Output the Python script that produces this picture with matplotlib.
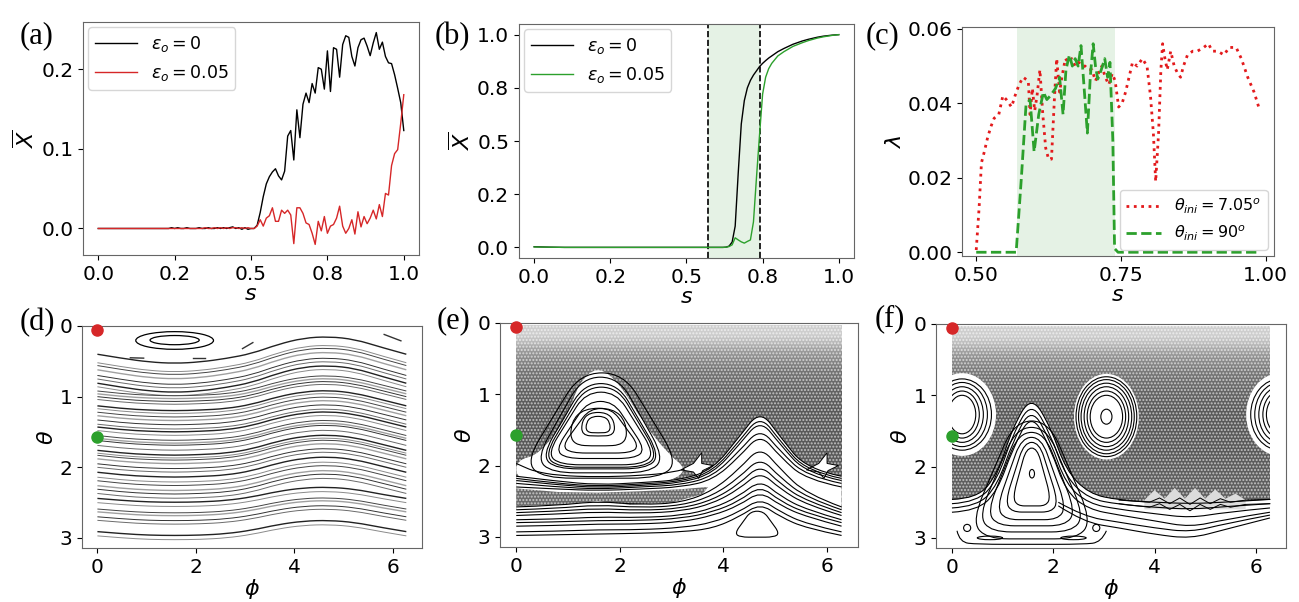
import numpy as np
import matplotlib
matplotlib.use("Agg")
import matplotlib.pyplot as plt
from matplotlib.path import Path
from matplotlib.patches import PathPatch, Ellipse, Polygon, Rectangle

plt.rcParams['font.family'] = ['DejaVu Sans']
plt.rcParams['mathtext.fontset'] = 'dejavusans'
plt.rcParams['xtick.labelsize'] = 14.5
plt.rcParams['ytick.labelsize'] = 14.5
plt.rcParams['axes.labelsize'] = 16
plt.rcParams['axes.edgecolor'] = '#666666'
plt.rcParams['hatch.linewidth'] = 1.0

# ---------------- (a) order parameter ----------------
s_a = np.round(np.arange(0, 1.0001, 0.01), 2)
xbar_a_eps0 = [
    0.000, 0.000, 0.000, 0.000, 0.000, 0.000, 0.000, 0.000, 0.000, 0.000,
    0.000, 0.000, 0.000, 0.000, 0.000, 0.000, 0.000, 0.000, 0.000, 0.000,
    0.000, 0.000, 0.000, 0.000, 0.001, 0.000, 0.001, 0.000, 0.000, 0.001,
    0.000, 0.000, 0.000, 0.001, 0.000, 0.000, 0.001, 0.000, 0.000, 0.001,
    0.000, 0.001, 0.000, 0.001, 0.002, 0.000, 0.001, -0.001, 0.001, -0.001,
    0.000, 0.000, 0.004, 0.020, 0.040, 0.056, 0.065, 0.071, 0.075, 0.066,
    0.061, 0.072, 0.116, 0.123, 0.086, 0.149, 0.114, 0.156, 0.170, 0.158,
    0.182, 0.170, 0.202, 0.200, 0.175, 0.223, 0.172, 0.227, 0.225, 0.190,
    0.231, 0.242, 0.240, 0.216, 0.204, 0.227, 0.237, 0.239, 0.229, 0.217,
    0.233, 0.246, 0.225, 0.234, 0.216, 0.208, 0.207, 0.193, 0.176, 0.158,
    0.123]
xbar_a_eps5 = [
    0.000, 0.000, 0.000, 0.000, 0.000, 0.000, 0.000, 0.000, 0.000, 0.000,
    0.000, 0.000, 0.000, 0.000, 0.000, 0.000, 0.000, 0.000, 0.000, 0.000,
    0.000, 0.000, 0.000, 0.000, 0.000, 0.000, 0.000, 0.000, 0.000, 0.000,
    0.000, 0.000, 0.000, 0.000, 0.000, 0.001, 0.000, 0.000, 0.001, 0.000,
    0.001, 0.000, 0.001, 0.000, 0.001, 0.001, 0.000, 0.001, 0.000, 0.001,
    0.000, 0.000, 0.003, 0.011, 0.003, 0.013, 0.016, 0.026, 0.009, 0.009,
    0.023, 0.019, 0.023, 0.017, -0.019, 0.026, 0.026, 0.019, 0.007, 0.005,
    -0.006, -0.020, 0.009, -0.003, 0.015, -0.006, 0.003, 0.005, 0.013, 0.028,
    0.003, -0.006, 0.000, 0.011, -0.007, 0.021, 0.002, 0.015, 0.006, 0.013,
    0.023, 0.012, 0.030, 0.015, 0.044, 0.042, 0.079, 0.094, 0.099, 0.132,
    0.168]

# ---------------- (b) ----------------
s_b = [0.0, 0.05, 0.1, 0.2, 0.3, 0.4, 0.5, 0.6, 0.62, 0.63, 0.64, 0.65, 0.66,
       0.67, 0.68, 0.69, 0.70, 0.71, 0.72, 0.73, 0.74, 0.75, 0.76, 0.77, 0.78,
       0.80, 0.82, 0.85, 0.88, 0.90, 0.93, 0.95, 0.98, 1.0]
xbar_b_eps0 = [0.003, 0.001, 0.0, 0.0, 0.0, 0.0, 0.0, 0.0, 0.0, 0.001, 0.006,
               0.025, 0.10, 0.35, 0.58, 0.69, 0.75, 0.785, 0.81, 0.83, 0.85,
               0.865, 0.878, 0.89, 0.90, 0.92, 0.935, 0.955, 0.97, 0.978,
               0.988, 0.993, 0.998, 1.0]
xbar_b_eps5 = [0.002, 0.001, 0.0, 0.0, 0.0, 0.0, 0.0, 0.0, 0.0, 0.001, 0.004,
               0.012, 0.045, 0.035, 0.026, 0.020, 0.028, 0.035, 0.12, 0.33,
               0.53, 0.72, 0.80, 0.84, 0.865, 0.90, 0.92, 0.945, 0.962, 0.972,
               0.984, 0.99, 0.997, 1.0]
chaos_lo, chaos_hi = 0.57, 0.74

# ---------------- (c) Lyapunov exponents ----------------
s_c_red = [0.500, 0.505, 0.509, 0.514, 0.520, 0.526, 0.531, 0.539, 0.546, 0.552,
           0.561, 0.567, 0.574, 0.581, 0.590, 0.593, 0.597, 0.601, 0.605, 0.610,
           0.615, 0.620, 0.625, 0.630, 0.635, 0.639, 0.644, 0.648, 0.654, 0.659,
           0.665, 0.671, 0.677, 0.683, 0.688, 0.694, 0.700, 0.706, 0.711, 0.717,
           0.723, 0.729, 0.735, 0.740, 0.746, 0.752, 0.758, 0.764, 0.770, 0.778,
           0.787, 0.795, 0.801, 0.806, 0.810, 0.815, 0.819, 0.822, 0.826, 0.830,
           0.836, 0.842, 0.848, 0.853, 0.858, 0.865, 0.874, 0.882, 0.893, 0.901,
           0.908, 0.917, 0.928, 0.937, 0.949, 0.958, 0.969, 0.980, 0.990]
lam_red = [0.0006, 0.012, 0.024, 0.027, 0.031, 0.034, 0.036, 0.037, 0.042, 0.041,
           0.039, 0.042, 0.045, 0.047, 0.046, 0.037, 0.044, 0.038, 0.042, 0.049,
           0.037, 0.028, 0.025, 0.025, 0.041, 0.052, 0.043, 0.047, 0.052, 0.051,
           0.052, 0.050, 0.051, 0.050, 0.050, 0.049, 0.049, 0.046, 0.048, 0.050,
           0.047, 0.045, 0.048, 0.046, 0.039, 0.040, 0.043, 0.047, 0.051, 0.050,
           0.052, 0.050, 0.042, 0.032, 0.019, 0.032, 0.049, 0.056, 0.052, 0.049,
           0.054, 0.050, 0.048, 0.047, 0.050, 0.053, 0.054, 0.054, 0.055, 0.056,
           0.054, 0.054, 0.053, 0.055, 0.055, 0.052, 0.047, 0.043, 0.038]
s_c_green = [0.500, 0.569, 0.578, 0.586, 0.593, 0.600, 0.608, 0.616, 0.622, 0.628,
             0.637, 0.644, 0.650, 0.655, 0.661, 0.666, 0.671, 0.676, 0.681, 0.686,
             0.692, 0.697, 0.702, 0.706, 0.710, 0.716, 0.722, 0.727, 0.731, 0.736,
             0.739, 0.745, 0.990]
lam_green = [0.0, 0.0, 0.020, 0.0395, 0.041, 0.027, 0.037, 0.043, 0.041, 0.042,
             0.044, 0.047, 0.037, 0.049, 0.053, 0.050, 0.052, 0.050, 0.0555, 0.045,
             0.032, 0.047, 0.056, 0.050, 0.0465, 0.049, 0.052, 0.047, 0.051, 0.030,
             0.001, 0.0, 0.0]
chaos_c_lo, chaos_c_hi = 0.57, 0.74

# ---------------- (d) regular tori ----------------
phi_d = [0, 0.52, 1.05, 1.57, 2.09, 2.62, 3.14, 3.67, 4.19, 4.71, 5.24, 5.76, 6.28]
wave_top = [0, 0.06, 0.11, 0.13, 0.11, 0.06, -0.01, -0.14, -0.23, -0.25, -0.21, -0.10, 0]
wave_mid = [0, 0.04, 0.06, 0.07, 0.06, 0.04, -0.02, -0.13, -0.20, -0.22, -0.18, -0.09, 0]
wave_bot = [0, 0.03, 0.05, 0.055, 0.05, 0.03, -0.02, -0.10, -0.15, -0.16, -0.13, -0.06, 0]
theta0_d = [0.40, 0.52, 0.56, 0.62, 0.70, 0.75, 0.81, 0.86, 0.92, 0.96, 1.00, 1.04,
            1.13, 1.17, 1.22, 1.27, 1.33, 1.39, 1.43, 1.48, 1.55, 1.59, 1.62, 1.69,
            1.76, 1.80, 1.83, 1.88, 1.95, 2.00, 2.07, 2.14, 2.19, 2.26, 2.31, 2.37,
            2.44, 2.50, 2.59, 2.63, 2.70, 2.75, 2.91, 2.97]
island_d = [(1.57, 0.205, 0.79, 0.125), (1.57, 0.20, 0.50, 0.065)]
fragments_d = [[(0.67, 0.45), (0.94, 0.455)], [(1.95, 0.46), (2.19, 0.46)],
               [(2.95, 0.32), (3.16, 0.235)], [(5.83, 0.12), (6.17, 0.21)]]

# ---------------- (e) mixed phase space ----------------
knots_e = [0, 0.8, 1.57, 2.4, 3.2, 3.8, 4.3, 4.71, 5.1, 5.6, 6.28]
humps_e = [
    [2.15, 2.22, 2.27, 2.24, 2.20, 2.05, 1.60, 1.22, 1.60, 2.05, 2.15],
    [2.18, 2.25, 2.29, 2.26, 2.22, 2.08, 1.66, 1.29, 1.66, 2.08, 2.18],
    [2.21, 2.27, 2.31, 2.28, 2.24, 2.11, 1.71, 1.35, 1.71, 2.11, 2.21],
    [2.25, 2.30, 2.33, 2.30, 2.27, 2.15, 1.80, 1.47, 1.80, 2.15, 2.25],
    [2.30, 2.33, 2.35, 2.33, 2.30, 2.20, 1.88, 1.55, 1.88, 2.20, 2.30],
    [2.58, 2.56, 2.50, 2.55, 2.52, 2.35, 2.05, 1.73, 2.05, 2.40, 2.58],
    [2.62, 2.60, 2.55, 2.59, 2.56, 2.42, 2.17, 1.88, 2.17, 2.45, 2.62],
    [2.66, 2.64, 2.60, 2.63, 2.60, 2.48, 2.26, 1.98, 2.26, 2.50, 2.66],
    [2.70, 2.68, 2.65, 2.67, 2.64, 2.53, 2.33, 2.08, 2.33, 2.55, 2.70],
    [2.76, 2.75, 2.72, 2.73, 2.70, 2.60, 2.43, 2.20, 2.43, 2.62, 2.76],
    [2.80, 2.79, 2.77, 2.77, 2.74, 2.65, 2.50, 2.28, 2.50, 2.67, 2.80],
    [2.85, 2.84, 2.82, 2.82, 2.79, 2.70, 2.56, 2.36, 2.56, 2.72, 2.85],
    [2.93, 2.92, 2.90, 2.90, 2.87, 2.80, 2.65, 2.46, 2.65, 2.82, 2.93],
    [2.98, 2.97, 2.96, 2.95, 2.93, 2.88, 2.72, 2.53, 2.72, 2.88, 2.98]]
# loops: (apex theta, bottom theta, left phi, right phi)
loops_e = [(0.70, 2.12, 0.25, 3.05), (0.76, 2.05, 0.45, 2.80), (0.85, 2.00, 0.55, 2.72),
           (0.90, 1.98, 0.60, 2.68), (0.97, 1.95, 0.65, 2.62), (1.10, 1.87, 0.80, 2.45),
           (1.20, 1.80, 0.92, 2.34)]
dees_e = [(1.22, 1.70, 1.08, 2.10), (1.27, 1.57, 1.28, 1.88), (1.32, 1.53, 1.36, 1.80)]
pond_e = (2.64, 2.99, 4.24, 5.06)
island_env_e = [(1.57, 0.60), (2.0, 0.85), (2.45, 1.40), (2.95, 1.85), (3.30, 2.05),
                (3.0, 2.22), (2.3, 2.28), (1.57, 2.30), (0.8, 2.28), (0.0, 2.20),
                (0.0, 1.92), (0.45, 1.85), (1.0, 1.30), (1.2, 0.85)]
sep_e = [(0.0, 1.97), (0.15, 2.02), (0.35, 2.08), (0.8, 2.14), (1.57, 2.16),
         (2.4, 2.14), (3.0, 2.10), (3.25, 2.05)]
band_e = [(0.0, 2.32), (0.8, 2.37), (1.57, 2.38), (2.4, 2.36), (3.2, 2.33), (3.7, 2.30),
          (3.6, 2.40), (3.0, 2.52), (2.2, 2.55), (1.57, 2.50), (0.8, 2.55), (0.0, 2.57)]
star_e = [(3.18, 2.06), (3.42, 1.97), (3.58, 1.82), (3.58, 1.97), (3.80, 2.00),
          (3.60, 2.07), (3.52, 2.18), (3.42, 2.09)]
star_shift_e = [0.0, 2.42]
sea_e = [0.30, 0.50, 0.62, 0.68, 0.72, 0.72, 0.72, 0.72, 0.70, 0.70]

# ---------------- (f) ----------------
knots_f = [0, 0.5, 0.9, 1.2, 1.57, 1.95, 2.25, 2.7, 3.3, 4.0, 4.71, 5.4, 6.28]
rot_f = [
    [2.46, 2.45, 2.10, 1.45, 1.00, 1.45, 2.05, 2.38, 2.47, 2.50, 2.52, 2.50, 2.46],
    [2.52, 2.50, 2.18, 1.55, 1.08, 1.55, 2.15, 2.45, 2.53, 2.57, 2.60, 2.56, 2.52],
    [2.58, 2.56, 2.26, 1.65, 1.16, 1.65, 2.25, 2.52, 2.60, 2.66, 2.72, 2.64, 2.58],
    [2.64, 2.62, 2.34, 1.75, 1.24, 1.75, 2.35, 2.60, 2.68, 2.76, 2.85, 2.74, 2.64]]
knots_f_low = [2.1, 2.6, 3.3, 4.0, 4.71, 5.4, 6.28]
low_f = [[2.50, 2.70, 2.78, 2.86, 2.92, 2.80, 2.68],
         [2.55, 2.78, 2.86, 2.95, 3.01, 2.88, 2.72]]
zig_phi_f = [3.3, 3.9, 4.1, 4.3, 4.5, 4.7, 4.9, 5.1, 5.3, 5.5, 5.8, 6.28]
zig_f = [[2.47, 2.50, 2.44, 2.52, 2.44, 2.53, 2.44, 2.52, 2.45, 2.50, 2.47, 2.46],
         [2.52, 2.57, 2.52, 2.60, 2.53, 2.62, 2.53, 2.60, 2.53, 2.57, 2.53, 2.52]]
bumps_f = [(3.8, 2.47), (4.0, 2.33), (4.2, 2.45), (4.4, 2.30), (4.6, 2.45), (4.8, 2.30),
           (5.0, 2.45), (5.2, 2.32), (5.4, 2.45), (5.6, 2.38), (5.8, 2.47)]
loops_f = [(1.36, 2.95, 0.45, 2.70), (1.45, 2.86, 0.58, 2.56), (1.52, 2.78, 0.74, 2.40),
           (1.59, 2.70, 0.92, 2.22), (1.66, 2.60, 1.08, 2.07), (1.74, 2.52, 1.22, 1.93)]
base_f = [(0.10, 2.90), (0.15, 3.06), (0.5, 3.09), (1.57, 3.09), (2.6, 3.09),
          (2.95, 3.06), (3.05, 2.90)]
small_f = [(0.30, 2.86, 0.07, 0.05), (2.85, 2.86, 0.07, 0.05), (1.58, 2.10, 0.05, 0.06),
           (0.75, 3.00, 0.25, 0.025), (2.40, 3.00, 0.25, 0.025)]
# islands: centre phi, centre theta, white half-width, white half-height
islands_f = [(0.20, 1.27, 0.67, 0.58), (6.48, 1.27, 0.67, 0.58), (3.05, 1.30, 0.64, 0.60)]
rings_side_f = [(0.58, 0.50), (0.50, 0.45), (0.42, 0.39), (0.34, 0.33), (0.27, 0.27)]
rings_mid_f = [(0.60, 0.56), (0.55, 0.52), (0.50, 0.47), (0.44, 0.42), (0.38, 0.36),
               (0.32, 0.30), (0.11, 0.105)]
sea_f = [0.30, 0.50, 0.62, 0.68, 0.72, 0.72, 0.72, 0.70, 0.70]

# loop templates (u across, v from apex to bottom)
tri_u = [0.30, 0.66, 1.05, 0.80, 0.0, -0.80, -1.05, -0.66, -0.30]
tri_v = [0.00, 0.42, 0.88, 1.04, 1.04, 1.04, 0.88, 0.42, 0.00]
dee_u = [0.55, 1.05, 1.05, 0.0, -1.05, -1.05, -0.55]
dee_v = [-0.05, 0.35, 1.02, 1.06, 1.02, 0.35, -0.05]


def spline_path(pts, closed=False):
    pts = np.asarray(pts, float)
    n = len(pts)
    if closed:
        mids = (pts + np.roll(pts, -1, axis=0)) / 2
        verts = [mids[-1]]
        codes = [Path.MOVETO]
        for i in range(n):
            verts += [pts[i], mids[i]]
            codes += [Path.CURVE3, Path.CURVE3]
        return Path(verts, codes)
    verts = [pts[0]]
    codes = [Path.MOVETO]
    for i in range(1, n - 1):
        end = (pts[i] + pts[i + 1]) / 2 if i < n - 2 else pts[i + 1]
        verts += [pts[i], end]
        codes += [Path.CURVE3, Path.CURVE3]
    return Path(verts, codes)


def under_path(pts, bottom=3.3):
    p = spline_path(pts)
    verts = list(p.vertices) + [(pts[-1][0], bottom), (pts[0][0], bottom), pts[0]]
    codes = list(p.codes) + [Path.LINETO, Path.LINETO, Path.CLOSEPOLY]
    return Path(verts, codes)


def loop_pts(apex, bottom, left, right, us=tri_u, vs=tri_v):
    c = (left + right) / 2
    hw = (right - left) / 2
    return [(c + u * hw, apex + v * (bottom - apex)) for u, v in zip(us, vs)]


def curve(ax, pts, closed=False, **kw):
    kw.setdefault('lw', 0.8)
    kw.setdefault('color', 'k')
    ax.add_patch(PathPatch(spline_path(pts, closed), fill=False, zorder=4, **kw))


def sea(ax, levels, top, bottom):
    img = np.array(levels)[:, None]
    ax.imshow(img, cmap='Greys', vmin=0, vmax=1, extent=[0, 6.28, bottom, top],
              aspect='auto', interpolation='bilinear', zorder=1)
    ax.add_patch(Rectangle((0, top), 6.28, bottom - top, fill=False, hatch='.....',
                           edgecolor=(1, 1, 1, 0.6), lw=0, zorder=1.5))


def phase_axes(ax):
    ax.set_xlim(-0.314, 6.597)
    ax.set_ylim(np.pi, 0)
    ax.set_xticks([0, 2, 4, 6])
    ax.set_yticks([0, 1, 2, 3])
    ax.set_xlabel(r'$\phi$', labelpad=0)
    ax.set_ylabel(r'$\theta$', labelpad=2)
    ax.plot(0, 0.06, 'o', color='#d62728', ms=8, clip_on=False, zorder=6)
    ax.plot(0, 1.57, 'o', color='#2ca02c', ms=8, clip_on=False, zorder=6)


fig = plt.figure(figsize=(12.99, 6.02), dpi=100)
ax_a = fig.add_axes([0.0639, 0.5764, 0.2587, 0.3871])
ax_b = fig.add_axes([0.3995, 0.5714, 0.2579, 0.3887])
ax_c = fig.add_axes([0.7406, 0.5748, 0.2402, 0.3804])
ax_d = fig.add_axes([0.0631, 0.0897, 0.2617, 0.3688])
ax_e = fig.add_axes([0.3849, 0.0914, 0.2756, 0.3721])
ax_f = fig.add_axes([0.7206, 0.0897, 0.2694, 0.3721])

lbl_a = [0, 0.25, 0.5, 0.75, 1.0]
lbl_txt = ['0.0', '0.2', '0.5', '0.8', '1.0']

# (a)
ax_a.plot(s_a, xbar_a_eps0, color='k', lw=1.0, label=r'$\varepsilon_o = 0$')
ax_a.plot(s_a, xbar_a_eps5, color='#d62728', lw=1.0, label=r'$\varepsilon_o = 0.05$')
ax_a.set_xticks(lbl_a, lbl_txt)
ax_a.set_yticks([0, 0.1, 0.2], ['0.0', '0.1', '0.2'])
ax_a.set_xlabel(r'$s$', labelpad=0)
ax_a.set_ylabel(r'$\overline{X}$', labelpad=2)
ax_a.legend(loc='upper left', fontsize=12.5, handlelength=2.4, borderaxespad=0.3)

# (b)
ax_b.axvspan(chaos_lo, chaos_hi, color='green', alpha=0.1, lw=0)
ax_b.axvline(chaos_lo, color='k', ls='--', lw=1.2)
ax_b.axvline(chaos_hi, color='k', ls='--', lw=1.2)
ax_b.plot(s_b, xbar_b_eps0, color='k', lw=1.0, label=r'$\varepsilon_o = 0$')
ax_b.plot(s_b, xbar_b_eps5, color='#2ca02c', lw=1.0, label=r'$\varepsilon_o = 0.05$')
ax_b.set_xticks(lbl_a, lbl_txt)
ax_b.set_yticks(lbl_a, lbl_txt)
ax_b.set_xlabel(r'$s$', labelpad=0)
ax_b.set_ylabel(r'$\overline{X}$', labelpad=2)
ax_b.legend(loc='upper left', fontsize=12.5, handlelength=2.4, borderaxespad=0.3)

# (c)
ax_c.axvspan(chaos_c_lo, chaos_c_hi, color='green', alpha=0.1, lw=0)
ax_c.plot(s_c_red, lam_red, color='#e31a1c', ls=':', lw=2, label=r'$\theta_{ini} = 7.05^o$')
ax_c.plot(s_c_green, lam_green, color='#2ca02c', ls='--', lw=2, label=r'$\theta_{ini} = 90^o$')
ax_c.set_ylim(-0.001, 0.0605)
ax_c.set_xticks([0.5, 0.75, 1.0], ['0.50', '0.75', '1.00'])
ax_c.set_yticks([0, 0.02, 0.04, 0.06], ['0.00', '0.02', '0.04', '0.06'])
ax_c.set_xlabel(r'$s$', labelpad=0)
ax_c.set_ylabel(r'$\lambda$', labelpad=2)
ax_c.legend(loc='lower right', fontsize=11.5, handlelength=2.2, borderaxespad=0.4)

# (d)
shades = ['#222222', '#8a8a8a', '#444444', '#a0a0a0', '#333333', '#6a6a6a']
for k, t0 in enumerate(theta0_d):
    wave = wave_top if t0 < 0.9 else (wave_bot if t0 > 2.4 else wave_mid)
    pts = [(p, t0 + w) for p, w in zip(phi_d, wave)]
    curve(ax_d, pts, color=shades[k % len(shades)], lw=1.0 if k % 3 == 0 else 0.7)
for cx, cy, hw, hh in island_d:
    ax_d.add_patch(Ellipse((cx, cy), 2 * hw, 2 * hh, fill=False, lw=0.9, color='k'))
for seg in fragments_d:
    xs, ys = zip(*seg)
    ax_d.plot(xs, ys, color='#333333', lw=1.0)
phase_axes(ax_d)

# (e)
sea(ax_e, sea_e, 0.03, 2.62)
ax_e.add_patch(PathPatch(under_path(list(zip(knots_e, humps_e[0]))), color='white', lw=0, zorder=2))
ax_e.add_patch(PathPatch(spline_path(island_env_e, True), color='white', lw=0, zorder=2))
ax_e.add_patch(Polygon(band_e, closed=True, color=plt.cm.Greys(0.66), lw=0, zorder=2.2))
ax_e.add_patch(Polygon(band_e, closed=True, fill=False, hatch='.....',
                       edgecolor=(1, 1, 1, 0.6), lw=0, zorder=2.3))
for dx in star_shift_e:
    ax_e.add_patch(Polygon([(x + dx, y) for x, y in star_e], closed=True,
                           facecolor='white', edgecolor='k', lw=0.7, zorder=3))
for row in humps_e:
    curve(ax_e, list(zip(knots_e, row)))
for lp in loops_e:
    curve(ax_e, loop_pts(*lp), closed=True)
for lp in dees_e:
    curve(ax_e, loop_pts(*lp, us=dee_u, vs=dee_v), closed=True)
ax_e.add_patch(PathPatch(spline_path(loop_pts(*pond_e), True), facecolor='white',
                         edgecolor='k', lw=0.8, zorder=4.5))
curve(ax_e, sep_e)
phase_axes(ax_e)

# (f)
sea(ax_f, sea_f, 0.03, 2.48)
ax_f.add_patch(PathPatch(under_path(list(zip(knots_f, rot_f[0]))), color='white', lw=0, zorder=2))
ax_f.add_patch(Polygon(bumps_f + [(5.8, 2.6), (3.8, 2.6)], closed=True,
                       color='#dcdcdc', lw=0, zorder=2.1))
clip = Rectangle((0, 0), 6.28, np.pi, transform=ax_f.transData)
for cx, cy, hw, hh in islands_f:
    e = Ellipse((cx, cy), 2 * hw, 2 * hh, color='white', lw=0, zorder=2)
    ax_f.add_patch(e)
    e.set_clip_path(clip)
    rings = rings_mid_f if 1 < cx < 5 else rings_side_f
    for rw, rh in rings:
        r = Ellipse((cx, cy), 2 * rw, 2 * rh, fill=False, lw=0.8, color='k', zorder=4)
        ax_f.add_patch(r)
        r.set_clip_path(clip)
for row in rot_f:
    curve(ax_f, list(zip(knots_f, row)))
for row in low_f:
    curve(ax_f, list(zip(knots_f_low, row)))
for row in zig_f:
    ax_f.plot(zig_phi_f, row, color='k', lw=0.7, zorder=4)
for lp in loops_f:
    curve(ax_f, loop_pts(*lp), closed=True)
curve(ax_f, base_f)
for cx, cy, hw, hh in small_f:
    ax_f.add_patch(Ellipse((cx, cy), 2 * hw, 2 * hh, fill=False, lw=0.8, color='k', zorder=4))
phase_axes(ax_f)

for lab, x, y in [('(a)', 0.0154, 0.94), ('(b)', 0.3349, 0.94), ('(c)', 0.6667, 0.94),
                  ('(d)', 0.0154, 0.4635), ('(e)', 0.3364, 0.468), ('(f)', 0.6736, 0.47)]:
    fig.text(x, y, lab, fontsize=22, family='Liberation Serif', va='center')

fig.savefig('out.png', dpi=100)
